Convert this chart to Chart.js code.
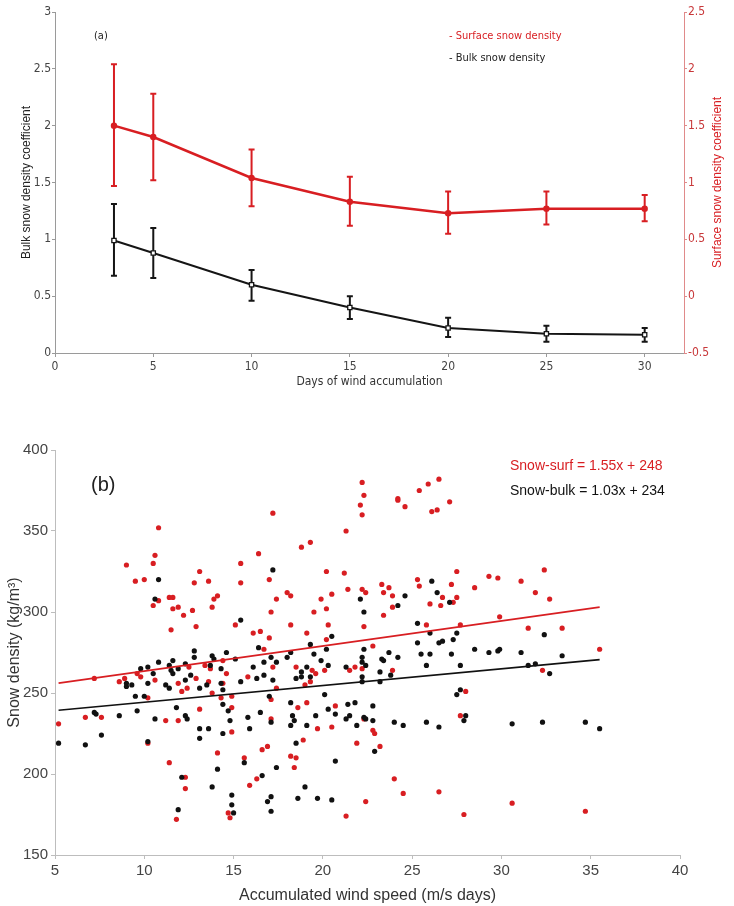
<!DOCTYPE html>
<html>
<head>
<meta charset="utf-8">
<script src="https://cdn.jsdelivr.net/npm/chart.js@4.4.1/dist/chart.umd.min.js"></script>
<style>
  html, body { margin: 0; padding: 0; background: #fff; }
  #wrapA { position: absolute; left: 0; top: 0; width: 734px; height: 415px; }
  #wrapB { position: absolute; left: 0; top: 415px; width: 734px; height: 491px; }
</style>
</head>
<body>
<div id="wrapA"><canvas id="chartA" width="734" height="415"></canvas></div>
<div id="wrapB"><canvas id="chartB" width="734" height="491"></canvas></div>
<script>
// ---- panel (a): coefficients vs days of accumulation ----
const days = [3, 5, 10, 15, 20, 25, 30];
const surfMean = [1.50, 1.40, 1.04, 0.83, 0.73, 0.77, 0.77];
const surfLo   = [0.97, 1.02, 0.79, 0.62, 0.55, 0.63, 0.66];
const surfHi   = [2.04, 1.78, 1.29, 1.05, 0.92, 0.92, 0.89];
const bulkMean = [0.99, 0.88, 0.60, 0.40, 0.22, 0.17, 0.16];
const bulkLo   = [0.68, 0.66, 0.46, 0.30, 0.14, 0.10, 0.10];
const bulkHi   = [1.31, 1.10, 0.73, 0.50, 0.31, 0.24, 0.22];
const xTicksA  = [0, 5, 10, 15, 20, 25, 30];
const yTicksA  = [0, 0.5, 1, 1.5, 2, 2.5, 3];
const yTicksAR = [-0.5, 0, 0.5, 1, 1.5, 2, 2.5];

// ---- panel (b): snow density vs accumulated wind speed ----
const surfX = [
  9.0, 9.5, 10.0, 10.5, 10.6, 10.8, 10.5, 10.8, 11.4, 11.6, 11.6, 11.9, 12.2, 11.5, 12.8, 13.1, 12.7, 12.9, 13.6, 13.8, 13.9, 14.1, 15.1,
  5.2, 6.7, 7.2, 7.6, 8.6, 8.9, 9.6, 9.8, 10.2, 10.6, 10.2, 11.2, 11.4, 11.9, 11.9, 12.1, 12.4, 12.5, 12.3, 12.3, 11.8, 12.9, 13.1, 13.4,
  13.6, 13.7, 13.8, 14.1, 14.3, 14.4, 14.4, 14.6, 14.9, 14.9, 14.9, 14.7, 14.8,
  15.4, 15.4, 16.4, 17.2, 17.0, 17.4, 17.1, 16.1, 16.5, 17.0, 16.7, 18.0, 18.2, 18.2, 18.8, 19.3, 19.1, 19.5, 19.9, 20.2, 20.2, 20.3,
  20.2, 20.5, 21.2, 21.3, 21.4, 22.1, 22.2, 22.3, 22.2, 22.2, 22.4, 22.3, 22.8, 23.3, 23.7, 23.4, 23.9, 23.9, 23.4, 24.2, 24.2, 24.6,
  25.4, 25.9, 26.1, 25.3, 25.4, 26.0, 25.8,
  15.8, 17.2, 17.4, 17.1, 17.1, 15.6, 16.6, 16.9, 15.9, 16.3, 18.5, 19.0, 19.3, 19.4, 19.6, 20.1, 18.6, 19.1, 19.7, 20.5, 20.7, 18.9,
  18.2, 18.5, 18.4, 21.5, 21.8, 22.2, 22.3, 22.8, 22.9, 21.9, 23.2, 23.9, 24.0, 24.5, 22.4, 21.3,
  26.5, 26.4, 27.1, 27.5, 27.2, 26.7, 26.6, 27.5, 27.3, 27.7, 28.5, 29.3, 29.8, 29.9, 31.1, 31.9, 32.4, 32.7, 31.5, 33.4, 35.5,
  32.3, 28.0, 27.7, 26.5, 27.9, 30.6, 34.7
];
const surfY = [
  329, 319, 320, 330, 335, 352, 304, 307, 309, 309, 302, 303, 298, 289, 318, 325, 301, 291, 319, 303, 308, 310, 292,
  231, 235, 259, 235, 257, 259, 262, 260, 247, 258, 219, 233, 207, 233, 256, 251, 253, 266, 198, 191, 172, 259, 240, 267,
  257, 265, 250, 213, 247, 270, 256, 262, 248, 241, 226, 176, 173,
  330, 318, 336, 361, 320, 308, 300, 287, 288, 284, 277, 312, 310, 292, 340, 343, 287, 300, 308, 325, 302, 292,
  283, 311, 324, 350, 314, 366, 380, 372, 360, 314, 312, 291, 279, 317, 315, 312, 310, 303, 298, 370, 369, 365,
  375, 379, 362, 320, 316, 305, 292,
  260, 266, 253, 246, 234, 210, 215, 217, 193, 197, 266, 255, 257, 264, 262, 264, 241, 244, 228, 229, 242, 221,
  211, 210, 204, 264, 266, 265, 234, 227, 225, 219, 217, 264, 197, 188, 183, 174,
  382, 363, 368, 325, 317, 309, 304, 309, 306, 292, 315, 322, 321, 297, 319, 312, 326, 308, 290, 290, 277,
  264, 251, 236, 189, 175, 182, 177
];
const bulkX = [
  10.8, 10.6,
  5.2, 6.7, 7.2, 7.3, 7.6, 8.6, 9.0, 9.0, 9.3, 9.5, 9.6, 9.8, 10.2, 10.0, 10.2, 10.5, 10.2, 10.6, 10.8, 11.2, 11.4, 11.4, 11.5, 11.6,
  11.6, 11.8, 11.9, 12.1, 12.3, 12.3, 12.4, 12.3, 12.6, 12.8, 12.8, 13.1, 13.1, 13.1, 13.5, 13.6, 13.8, 13.9, 13.7, 14.3, 14.3, 14.4,
  14.4, 14.6, 14.7, 14.8, 14.4, 14.1, 13.8, 11.9, 14.9, 14.9, 15.0, 15.1,
  15.4, 17.2, 16.4, 19.3, 20.5, 20.2, 22.1, 22.3, 24.2, 24.6, 26.1, 25.3, 26.0, 25.3,
  16.1, 15.4, 16.3, 16.7, 16.7, 17.1, 17.4, 17.2, 18.0, 18.2, 17.0, 15.8, 15.9, 16.5, 17.1, 15.6, 16.6, 17.4, 16.9, 17.1, 17.1, 18.2,
  18.3, 18.4, 18.2, 18.5, 19.1, 19.6, 19.0, 18.6, 19.7, 20.5, 20.7, 18.8, 18.8, 18.5, 19.1, 19.3, 19.5, 19.9, 20.3, 20.1, 20.3, 20.7,
  21.3, 21.5, 21.4, 21.8, 21.9, 21.3, 22.2, 22.2, 22.2, 22.4, 22.2, 22.3, 22.3, 22.4, 22.8, 22.8, 22.9, 23.2, 23.2, 23.3, 23.4, 23.7,
  23.8, 24.2, 24.0, 24.5, 25.5, 26.0, 25.8, 25.8,
  26.4, 27.1, 27.5, 27.3, 26.7, 26.5, 32.4,
  27.2, 28.5, 29.3, 29.8, 29.9, 31.1, 33.4, 27.7, 31.5, 31.9, 32.7, 27.7, 27.5, 28.0, 27.9, 26.5, 30.6, 32.3, 34.7, 35.5
];
const bulkY = [
  320, 308,
  219, 218, 238, 237, 224, 236, 254, 256, 255, 248, 239, 265, 266, 248, 256, 262, 220, 234, 269, 255, 253, 267, 264, 270,
  262, 241, 265, 198, 258, 236, 234, 268, 261, 276, 272, 253, 228, 222, 255, 228, 273, 271, 267, 265, 256, 252,
  243, 275, 239, 233, 225, 203, 192, 178, 187, 181, 176, 271,
  295, 326, 278, 280, 285, 277, 308, 300, 304, 310, 319, 293, 287, 281,
  266, 257, 259, 261, 269, 272, 269, 258, 272, 275, 248, 235, 228, 238, 232, 207, 199, 204, 183, 186, 177, 244,
  236, 233, 230, 219, 230, 236, 192, 185, 185, 184, 208, 263, 260, 259, 266, 260, 274, 270, 267, 249, 240, 237,
  234, 236, 243, 244, 230, 266, 260, 257, 269, 267, 272, 277, 235, 234, 233, 242, 214, 257, 263, 271, 270, 275,
  261, 272, 232, 230, 274, 274, 267, 232,
  312, 306, 287, 283, 282, 281, 286,
  274, 277, 275, 276, 277, 275, 273, 267, 267, 268, 262, 252, 249, 236, 233, 229, 231, 232, 232, 228
];
// least-squares lines as drawn (endpoints)
const fitX = [5.2, 35.5];
const surfFit = [256.1, 303.0];
const bulkFit = [239.4, 270.6];
const xTicksB = [5, 10, 15, 20, 25, 30, 35, 40];
const yTicksB = [150, 200, 250, 300, 350, 400];

const RED = '#d81e22';
const NARROW = "'DejaVu Sans Condensed', 'Liberation Sans', sans-serif";
const SANS = "'Liberation Sans', Arial, sans-serif";

function fixTicks(list) {
    return scale => { scale.ticks = list.map(v => ({ value: v })); };
}
// plain labels: 3, 2.5, 2 ... (no forced decimals)
const plain = v => String(v);

// vertical error bars, drawn from the lo/hi arrays through the axes
const errorBars = {
    id: 'errorBars',
    beforeDatasetsDraw(chart) {
        const ctx = chart.ctx;
        const x = chart.scales.x;
        const sets = [
            { lo: surfLo, hi: surfHi, axis: chart.scales.yR, color: RED },
            { lo: bulkLo, hi: bulkHi, axis: chart.scales.y, color: '#151515' }
        ];
        ctx.save();
        ctx.lineWidth = 2;
        sets.forEach(s => {
            ctx.strokeStyle = s.color;
            days.forEach((d, i) => {
                const px = x.getPixelForValue(d);
                const y1 = s.axis.getPixelForValue(s.lo[i]);
                const y2 = s.axis.getPixelForValue(s.hi[i]);
                ctx.beginPath();
                ctx.moveTo(px, y1); ctx.lineTo(px, y2);
                ctx.moveTo(px - 3, y1); ctx.lineTo(px + 3, y1);
                ctx.moveTo(px - 3, y2); ctx.lineTo(px + 3, y2);
                ctx.stroke();
            });
        });
        ctx.restore();
    }
};

const labelsA = {
    id: 'labelsA',
    afterDraw(chart) {
        const ctx = chart.ctx;
        const area = chart.chartArea;
        ctx.save();
        ctx.textBaseline = 'middle';
        ctx.font = '11px ' + NARROW;
        ctx.fillStyle = '#222';
        ctx.fillText('(a)', 94, 36);
        ctx.fillStyle = RED;
        ctx.fillText('- Surface snow density', 449, 36);
        ctx.fillStyle = '#222';
        ctx.fillText('- Bulk snow density', 449, 58);
        // right axis title reads bottom-to-top like the left one
        ctx.translate(718, (area.top + area.bottom) / 2);
        ctx.rotate(-Math.PI / 2);
        ctx.textAlign = 'center';
        ctx.font = '12px ' + SANS;
        ctx.fillStyle = RED;
        ctx.fillText('Surface snow density coefficient', 0, 0);
        ctx.restore();
    }
};

const labelsB = {
    id: 'labelsB',
    afterDraw(chart) {
        const ctx = chart.ctx;
        ctx.save();
        ctx.textBaseline = 'middle';
        ctx.font = '20px ' + SANS;
        ctx.fillStyle = '#222';
        ctx.fillText('(b)', 91, 70);
        ctx.font = '14px ' + SANS;
        ctx.fillStyle = RED;
        ctx.fillText('Snow-surf = 1.55x + 248', 510, 51);
        ctx.fillStyle = '#111';
        ctx.fillText('Snow-bulk = 1.03x + 234', 510, 76);
        ctx.restore();
    }
};

new Chart(document.getElementById('chartA'), {
    type: 'line',
    data: {
        datasets: [
            {
                label: 'Surface snow density',
                data: days.map((d, i) => ({ x: d, y: surfMean[i] })),
                yAxisID: 'yR',
                borderColor: RED,
                borderWidth: 2.5,
                pointRadius: 3.2,
                pointBackgroundColor: RED,
                pointBorderColor: RED,
                pointBorderWidth: 0
            },
            {
                label: 'Bulk snow density',
                data: days.map((d, i) => ({ x: d, y: bulkMean[i] })),
                yAxisID: 'y',
                borderColor: '#151515',
                borderWidth: 2,
                pointStyle: 'rect',
                pointRadius: 3,
                pointBackgroundColor: '#fff',
                pointBorderColor: '#151515',
                pointBorderWidth: 1.3
            }
        ]
    },
    options: {
        responsive: false,
        animation: false,
        layout: { padding: { top: 12, left: 0, right: 0, bottom: 0 } },
        plugins: { legend: { display: false }, tooltip: { enabled: false } },
        scales: {
            x: {
                type: 'linear', min: 0, max: 32,
                afterBuildTicks: fixTicks(xTicksA),
                afterFit: s => { s.height = 62; },
                grid: { drawOnChartArea: false, tickLength: 4, color: '#9a9a9a' },
                border: { color: '#9a9a9a' },
                ticks: { font: { family: NARROW, size: 12 }, color: '#444', padding: 3, callback: plain },
                title: { display: true, text: 'Days of wind accumulation', font: { family: NARROW, size: 12 }, color: '#333', padding: { top: 0, bottom: 26 } }
            },
            y: {
                position: 'left', min: 0, max: 3,
                afterBuildTicks: fixTicks(yTicksA),
                afterFit: s => { s.width = 55; },
                grid: { drawOnChartArea: false, tickLength: 3, color: '#9a9a9a' },
                border: { color: '#9a9a9a' },
                ticks: { font: { family: NARROW, size: 12 }, color: '#444', padding: 1, callback: plain },
                title: { display: true, text: 'Bulk snow density coefficient', font: { family: SANS, size: 12 }, color: '#222', padding: { top: 19, bottom: 0 } }
            },
            yR: {
                position: 'right', min: -0.5, max: 2.5,
                afterBuildTicks: fixTicks(yTicksAR),
                afterFit: s => { s.width = 50; },
                grid: { drawOnChartArea: false, tickLength: 3, color: '#e08a8a' },
                border: { color: '#e08a8a' },
                ticks: { font: { family: NARROW, size: 12 }, color: '#c8383a', padding: 1, callback: plain }
            }
        }
    },
    plugins: [errorBars, labelsA]
});

new Chart(document.getElementById('chartB'), {
    type: 'scatter',
    data: {
        datasets: [
            {
                label: 'surf fit', type: 'line',
                data: fitX.map((x, i) => ({ x: x, y: surfFit[i] })),
                borderColor: RED, borderWidth: 1.6, pointRadius: 0
            },
            {
                label: 'bulk fit', type: 'line',
                data: fitX.map((x, i) => ({ x: x, y: bulkFit[i] })),
                borderColor: '#111', borderWidth: 1.6, pointRadius: 0
            },
            {
                label: 'Snow-bulk',
                data: bulkX.map((x, i) => ({ x: x, y: bulkY[i] })),
                pointRadius: 2.6, pointBorderWidth: 0,
                pointBackgroundColor: '#111'
            },
            {
                label: 'Snow-surf',
                data: surfX.map((x, i) => ({ x: x, y: surfY[i] })),
                pointRadius: 2.6, pointBorderWidth: 0,
                pointBackgroundColor: RED
            }
        ]
    },
    options: {
        responsive: false,
        animation: false,
        layout: { padding: { top: 35, left: 0, right: 54, bottom: 0 } },
        plugins: { legend: { display: false }, tooltip: { enabled: false } },
        scales: {
            x: {
                type: 'linear', min: 5, max: 40,
                afterBuildTicks: fixTicks(xTicksB),
                afterFit: s => { s.height = 51; },
                grid: { drawOnChartArea: false, tickLength: 4, color: '#bdbdbd' },
                border: { color: '#bdbdbd' },
                ticks: { font: { family: SANS, size: 15 }, color: '#444', padding: 3, callback: plain },
                title: { display: true, text: 'Accumulated wind speed (m/s days)', font: { family: SANS, size: 16 }, color: '#333', padding: { top: 0, bottom: 1 } }
            },
            y: {
                min: 150, max: 400,
                afterBuildTicks: fixTicks(yTicksB),
                afterFit: s => { s.width = 55; },
                grid: { drawOnChartArea: false, tickLength: 4, color: '#bdbdbd' },
                border: { color: '#bdbdbd' },
                ticks: { font: { family: SANS, size: 15 }, color: '#444', padding: 3, callback: plain },
                title: { display: true, text: 'Snow density (kg/m³)', font: { family: SANS, size: 16 }, color: '#333', padding: { top: 5, bottom: 0 } }
            }
        }
    },
    plugins: [labelsB]
});
</script>
</body>
</html>
